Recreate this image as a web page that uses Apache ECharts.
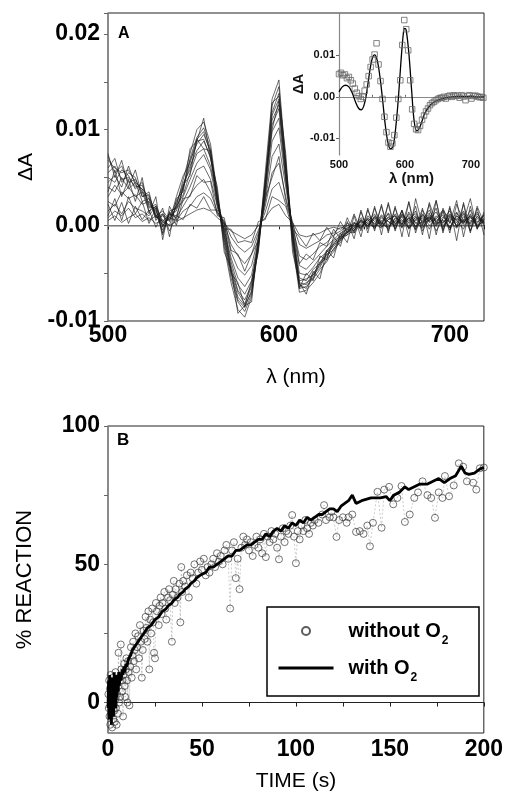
<!DOCTYPE html>
<html><head><meta charset="utf-8">
<script src="https://cdn.jsdelivr.net/npm/echarts@6/dist/echarts.min.js"></script>
<style>html,body{margin:0;padding:0;background:#fff}#c{width:506px;height:803px}</style>
</head><body><div id="c"></div>
<script>
// ---------- Panel A: transient difference spectra ----------
const wavelengths = [500,504,508,512,516,520,524,528,532,536,540,544,548,552,556,560,564,568,572,576,580,584,588,592,596,600,604,608,612,616,620,624,628,632,636,640,644,648,652,656,660,664,668,672,676,680,684,688,692,696,700,704,708,712,716,720];

const spectrum01 = [.0068,.0060,.0055,.0058,.0045,.0038,.0030,.0012,-.0005,.0012,.0020,.0048,.0075,.0100,.0108,.0085,.0032,-.0022,-.0060,-.0088,-.0096,-.0075,-.0022,.0055,.0132,.0152,.0065,-.0020,-.0070,-.0068,-.0060,-.0050,-.0035,-.0028,-.0015,-.0010,-.0005,.0004,-.0002,.0008,.0002,.0012,-.0004,.0010,.0003,.0015,-.0006,.0008,.0000,.0014,-.0003,.0010,.0002,.0016,-.0002,.0006];
const spectrum02 = [.0055,.0062,.0048,.0050,.0040,.0042,.0022,.0015,.0000,.0008,.0025,.0040,.0070,.0092,.0102,.0080,.0028,-.0018,-.0055,-.0080,-.0090,-.0072,-.0020,.0048,.0125,.0145,.0060,-.0018,-.0066,-.0064,-.0056,-.0046,-.0038,-.0024,-.0018,-.0006,-.0008,.0002,.0006,-.0004,.0010,.0000,.0012,-.0002,.0008,-.0005,.0011,.0004,.0018,-.0004,.0009,.0000,.0012,-.0006,.0010,.0001];
const spectrum03 = [.0072,.0055,.0062,.0045,.0048,.0035,.0028,.0008,.0010,.0004,.0030,.0052,.0065,.0090,.0098,.0075,.0035,-.0015,-.0050,-.0078,-.0086,-.0068,-.0025,.0042,.0118,.0138,.0068,-.0012,-.0062,-.0066,-.0052,-.0044,-.0030,-.0026,-.0012,-.0010,.0002,-.0004,.0008,.0002,-.0003,.0009,.0003,.0015,-.0004,.0006,.0002,.0013,-.0006,.0007,.0015,-.0002,.0006,.0003,.0014,-.0001];
const spectrum04 = [.0050,.0045,.0058,.0052,.0038,.0045,.0020,.0018,-.0008,.0015,.0018,.0038,.0068,.0085,.0095,.0078,.0026,-.0012,-.0048,-.0075,-.0084,-.0070,-.0018,.0045,.0115,.0132,.0058,-.0015,-.0064,-.0060,-.0055,-.0040,-.0034,-.0020,-.0016,-.0004,-.0006,.0006,-.0001,.0010,.0004,-.0002,.0007,.0001,.0012,.0003,-.0003,.0009,.0004,.0011,-.0005,.0013,.0000,.0008,.0003,.0011];
const spectrum05 = [.0060,.0070,.0045,.0055,.0050,.0030,.0032,.0010,.0004,.0000,.0022,.0044,.0058,.0088,.0090,.0070,.0030,-.0010,-.0046,-.0070,-.0082,-.0064,-.0022,.0040,.0110,.0126,.0062,-.0010,-.0060,-.0062,-.0050,-.0042,-.0028,-.0022,-.0014,-.0008,.0000,-.0002,.0004,.0012,-.0002,.0006,.0010,-.0003,.0014,.0002,.0008,-.0004,.0010,.0002,.0012,.0005,-.0004,.0012,.0000,.0008];
const spectrum06 = [.0045,.0052,.0040,.0062,.0042,.0038,.0018,.0022,.0002,.0010,.0015,.0040,.0062,.0078,.0088,.0072,.0024,-.0008,-.0042,-.0068,-.0078,-.0062,-.0016,.0038,.0105,.0122,.0055,-.0012,-.0058,-.0056,-.0052,-.0038,-.0032,-.0018,-.0014,-.0006,-.0003,.0008,.0002,-.0002,.0008,.0004,-.0001,.0011,.0005,.0010,-.0002,.0006,.0014,.0000,.0007,.0003,.0015,-.0001,.0007,.0004];
const spectrum07 = [.0040,.0035,.0050,.0038,.0045,.0025,.0028,.0008,.0012,.0005,.0020,.0032,.0055,.0075,.0080,.0062,.0028,-.0005,-.0038,-.0062,-.0072,-.0058,-.0020,.0032,.0098,.0112,.0050,-.0008,-.0055,-.0058,-.0046,-.0040,-.0026,-.0020,-.0010,-.0008,.0002,-.0003,.0010,.0004,.0001,.0013,.0002,.0006,-.0003,.0009,.0005,.0016,.0002,.0005,-.0002,.0010,.0004,.0002,.0012,.0003];
const spectrum08 = [.0030,.0042,.0032,.0040,.0030,.0035,.0015,.0020,-.0002,.0012,.0010,.0030,.0048,.0065,.0074,.0058,.0022,-.0004,-.0034,-.0055,-.0064,-.0052,-.0015,.0030,.0088,.0102,.0046,-.0006,-.0050,-.0052,-.0044,-.0034,-.0028,-.0016,-.0012,-.0002,-.0005,.0006,.0000,.0009,.0003,-.0004,.0008,.0004,.0010,-.0002,.0012,.0003,.0007,.0016,.0004,-.0003,.0009,.0005,.0002,.0010];
const spectrum09 = [.0025,.0020,.0035,.0028,.0032,.0022,.0025,.0010,.0015,.0006,.0018,.0025,.0040,.0058,.0062,.0048,.0020,.0000,-.0028,-.0045,-.0052,-.0042,-.0012,.0025,.0072,.0085,.0040,-.0004,-.0042,-.0046,-.0038,-.0030,-.0022,-.0015,-.0008,-.0004,.0003,-.0002,.0007,.0001,.0011,.0004,.0000,.0012,.0002,.0008,.0000,.0011,.0005,-.0002,.0010,.0006,.0013,.0001,.0009,.0002];
const spectrum10 = [.0015,.0022,.0012,.0025,.0018,.0015,.0010,.0020,.0004,.0012,.0008,.0020,.0032,.0042,.0048,.0035,.0014,.0002,-.0020,-.0032,-.0040,-.0030,-.0008,.0020,.0055,.0065,.0030,-.0002,-.0032,-.0036,-.0030,-.0022,-.0018,-.0010,-.0006,.0000,-.0003,.0005,.0002,.0008,-.0001,.0006,.0010,.0001,.0007,.0012,.0003,.0008,-.0001,.0009,.0003,.0014,.0002,.0010,.0004,.0006];
const spectrum11 = [.0008,.0015,.0010,.0018,.0008,.0012,.0005,.0010,.0000,.0008,.0005,.0015,.0020,.0030,.0034,.0028,.0012,.0004,-.0012,-.0022,-.0028,-.0022,-.0005,.0014,.0038,.0045,.0022,.0002,-.0020,-.0024,-.0020,-.0016,-.0010,-.0008,-.0002,-.0004,.0003,.0000,.0006,-.0002,.0005,.0008,.0001,.0009,-.0003,.0006,.0010,.0000,.0007,.0003,.0011,-.0001,.0005,.0009,-.0002,.0005];
const spectrum12 = [.0005,.0010,.0003,.0008,.0012,.0004,.0008,.0002,.0006,.0000,.0004,.0008,.0012,.0016,.0018,.0015,.0008,.0002,-.0006,-.0010,-.0014,-.0010,.0000,.0008,.0018,.0022,.0010,.0003,-.0010,-.0012,-.0010,-.0008,-.0004,-.0002,-.0004,.0002,-.0001,.0004,.0000,.0006,.0002,-.0002,.0005,.0002,.0008,-.0001,.0004,.0009,.0001,.0006,-.0002,.0007,.0003,.0010,.0000,.0004];
const spectrum13 = [.0075,.0050,.0068,.0040,.0058,.0030,.0035,.0005,.0018,-.0012,.0028,.0035,.0080,.0088,.0112,.0070,.0040,-.0028,-.0045,-.0092,-.0084,-.0080,-.0012,.0036,.0128,.0135,.0075,-.0028,-.0060,-.0072,-.0048,-.0056,-.0026,-.0034,-.0008,-.0018,.0010,-.0012,.0018,-.0006,.0022,-.0008,.0020,-.0012,.0025,-.0004,.0018,-.0014,.0026,-.0008,.0020,-.0016,.0024,-.0006,.0018,-.0010];
const spectrum14 = [.0035,.0058,.0030,.0048,.0025,.0050,.0012,.0030,-.0015,.0020,.0005,.0042,.0052,.0090,.0080,.0078,.0018,.0004,-.0050,-.0060,-.0085,-.0058,-.0028,.0046,.0100,.0130,.0048,-.0004,-.0066,-.0050,-.0058,-.0032,-.0036,-.0012,-.0022,.0004,-.0014,.0016,-.0008,.0020,-.0010,.0024,-.0004,.0016,-.0012,.0028,.0000,.0022,-.0010,.0018,.0002,.0026,-.0012,.0020,-.0004,.0014];
const spectrum15 = [.0010,.0028,.0005,.0030,.0012,.0025,.0002,.0018,-.0010,.0014,.0000,.0028,.0030,.0052,.0045,.0046,.0010,.0008,-.0026,-.0030,-.0048,-.0030,-.0016,.0028,.0050,.0072,.0026,.0004,-.0040,-.0030,-.0036,-.0018,-.0022,-.0004,-.0014,.0008,-.0008,.0014,-.0004,.0018,.0000,.0022,-.0006,.0016,-.0002,.0020,-.0010,.0024,.0002,.0016,-.0008,.0022,.0004,.0028,-.0004,.0012];
const spectrum16 = [.0022,.0005,.0024,.0002,.0020,.0006,.0016,-.0002,.0012,-.0006,.0010,.0006,.0022,.0018,.0030,.0016,.0016,-.0004,-.0004,-.0018,-.0016,-.0018,.0004,.0006,.0030,.0026,.0020,-.0004,-.0012,-.0022,-.0008,-.0016,-.0002,-.0012,.0004,-.0008,.0012,-.0006,.0016,-.0002,.0020,-.0006,.0018,.0000,.0024,-.0008,.0016,.0004,.0026,-.0006,.0018,-.0002,.0022,-.0008,.0020,.0002];
const spectra = [spectrum01,spectrum02,spectrum03,spectrum04,spectrum05,spectrum06,spectrum07,spectrum08,spectrum09,spectrum10,spectrum11,spectrum12,spectrum13,spectrum14,spectrum15,spectrum16];

// ---------- Inset: measured points and fit ----------
const insetPoints = [[500,.0055],[503,.0058],[506,.0052],[509,.0054],[512,.0045],[515,.0048],[518,.0040],[521,.0032],[524,.0020],[527,.0010],[530,.0002],[533,-.0005],[536,.0000],[539,.0015],[542,.0030],[545,.0050],[548,.0072],[551,.0090],[554,.0102],[557,.0129],[560,.0078],[563,.0038],[566,-.0005],[569,-.0048],[572,-.0085],[575,-.0110],[578,-.0120],[581,-.0112],[584,-.0092],[587,-.0050],[590,-.0005],[593,.0040],[596,.0125],[599,.0185],[602,.0163],[605,.0112],[608,.0040],[611,-.0030],[614,-.0065],[617,-.0078],[620,-.0080],[623,-.0070],[626,-.0055],[629,-.0045],[632,-.0035],[635,-.0028],[638,-.0020],[641,-.0015],[644,-.0012],[647,-.0008],[650,-.0005],[653,-.0003],[656,-.0002],[659,.0000],[662,-.0004],[665,.0001],[668,.0003],[671,.0000],[674,.0004],[677,.0002],[680,.0003],[683,-.0002],[686,.0004],[689,.0001],[692,-.0008],[695,.0002],[698,.0004],[701,-.0004],[704,.0002],[707,.0003],[710,.0001],[713,-.0001],[716,.0000],[719,-.0002]];
const insetFit = [[500,.0012],[505,.0024],[510,.0028],[515,.0024],[520,.0010],[525,-.0012],[530,-.0028],[534,-.0031],[538,-.0020],[542,.0010],[546,.0055],[550,.0090],[554,.0101],[558,.0088],[562,.0050],[566,-.0005],[570,-.0065],[574,-.0108],[578,-.0125],[582,-.0120],[586,-.0075],[590,-.0005],[594,.0085],[598,.0158],[600,.0165],[602,.0160],[606,.0105],[610,.0020],[614,-.0058],[618,-.0082],[622,-.0075],[626,-.0058],[630,-.0040],[636,-.0025],[642,-.0015],[650,-.0008],[660,-.0003],[670,.0000],[680,.0001],[690,.0001],[700,.0001],[710,.0000],[720,.0000]];

// ---------- Panel B: % reaction vs time ----------
const withoutO2 = [[0.2,3],[0.4,-2],[0.6,8],[0.8,-5],[1.0,5],[1.2,-8],[1.4,10],[1.6,0],[1.8,-4],[2.0,6],[2.2,-9],[2.4,2],[2.6,9],[2.8,-6],[3.0,4],[3.2,-3],[3.4,7],[3.6,-7],[3.8,1],[4.0,11],[4.2,-2],[4.4,5],[4.6,-8],[4.8,3],[5.0,8],[5.3,-4],[5.6,18],[5.9,0],[6.2,9],[6.5,2],[6.8,21],[7.1,12],[7.4,4],[7.7,8],[8.0,-5],[8.3,10],[8.6,14],[8.9,6],[9.2,2],[9.5,12],[9.8,16],[10.1,8],[10.4,0],[10.7,15],[11,11],[11.4,-1],[11.8,13],[12.2,20],[12.6,9],[13,17],[13.4,22],[13.8,15],[14.2,19],[14.6,25],[15,12],[15.5,20],[16,24],[16.5,16],[17,28],[17.5,22],[18,9],[18.5,19],[19,26],[19.5,23],[20,31],[20.5,27],[21,22],[21.5,33],[22,12],[22.5,30],[23,25],[23.5,34],[24,29],[24.5,18],[25,16],[25.5,36],[26,33],[27,28],[27.5,35],[28,38],[28.5,32],[29,36],[30,40],[30.5,34],[31,30],[32,38],[32.5,41],[33,37],[34,22],[34.5,39],[35,44],[35.5,36],[36,41],[37,38],[38,43],[38.5,29],[39,49],[39.5,40],[40,44],[41,42],[42,46],[43,38],[44,47],[45,45],[46,50],[47,43],[48,47],[49,51],[50,48],[51,52],[52,46],[53,49],[54,47],[55,50],[56,52],[57,49],[58,54],[59,51],[60,53],[61,50],[62,55],[63,57],[64,52],[65,34],[66,55],[67,58],[68,45],[69,52],[70,41],[71,56],[72,60],[73,57],[74,59],[75,55],[76,58],[77,53],[78,57],[79,60],[80,56],[81,59],[82,54],[83,61],[84,52.6],[85,60],[86,58],[87,62],[88,59],[89,61],[90,56],[91,51.8],[92,60],[93,63],[94,58],[95,62],[96,61],[97,64],[98,67.8],[99,60],[100,50.4],[101,62],[102,59],[103,64],[104,62],[105,66],[106,63],[107,61],[108,65],[109,64],[110,66],[112,65],[114,68],[115,71.4],[116,66],[118,67],[119,69],[120,67],[121.6,59.9],[123,66],[125,67],[127,65],[128,67],[130,68],[132,61.7],[134,62],[136,61],[138,64],[139.4,56.5],[141,65],[143.4,76.2],[145.6,63.2],[147,77],[149.6,78],[151.8,71.7],[154,74],[156.2,78.3],[158,65.3],[160.6,68],[163,74],[165,76],[167.4,80],[170,75],[172,74],[174,66.8],[176,76],[178,74],[179.3,81.9],[181.5,74.6],[184,78.5],[186.7,86.5],[189,85.3],[191,80],[194.3,79.5],[196,77],[197.9,84.7],[200,85]];
const withO2 = [[0,-2],[0.3,8],[0.6,-6],[0.9,10],[1.2,-4],[1.5,6],[1.8,-8],[2.1,9],[2.4,-3],[2.7,7],[3.0,-5],[3.3,11],[3.6,0],[3.9,8],[4.2,-2],[4.5,10],[4.8,2],[5.1,9],[5.4,4],[5.7,11],[6,6],[6.5,10],[7,8],[7.5,12],[8,10],[8.5,13],[9,11],[9.5,14],[10,13],[11,16],[12,17],[13,19],[14,19],[15,21],[16,22],[17,22],[18,24],[19,25],[20,25],[21,27],[22,27],[23,28],[24,29],[25,30],[26,30],[27,31],[28,32],[29,33],[30,33],[31,34],[32,35],[33,35],[34,36],[35,37],[36,37],[37,38],[38,39],[39,39],[40,40],[41,41],[42,41],[43,42],[44,43],[45,43],[46,44],[47,45],[48,45],[49,46],[50,46],[52,47],[54,49],[56,49],[58,50],[60,51],[62,52],[64,53],[66,53],[68,55],[70,55],[72,56],[74,57],[76,57],[78,58],[80,59],[82,59],[84,61],[86,60],[88,62],[90,63],[92,62],[94,64],[96,63],[98,65],[100,64],[102,66],[104,65],[106,67],[108,66],[110,67],[112,68],[114,68],[116,69],[118,70],[120,70],[122,69],[124,71],[126,72],[128,73],[130,75],[132,72],[135,73],[140,74],[145,74],[148,74.5],[150,73],[152,75],[155,76],[158,78],[160,77],[163,78],[166,79],[170,79],[173,80],[176,81],[179,79.5],[182,81],[185,82],[188,85.5],[190,83],[192,82.5],[195,83],[198,84.5],[200,85]];

const FONT = '"Liberation Sans", Arial, Helvetica, sans-serif';
const chart = echarts.init(document.getElementById('c'), null, {renderer: 'canvas'});

function near(v, step) { return Math.abs(v / step - Math.round(v / step)) < 1e-6; }
function fmt2(v) { if (!near(v, 0.01)) return ''; if (Math.abs(v) < 1e-9) return '0.00'; return v.toFixed(2); }

const specSeries = spectra.map((s, k) => ({
  type: 'line', xAxisIndex: 0, yAxisIndex: 0, symbol: 'none', silent: true,
  data: wavelengths.map((w, i) => [w, s[i]]),
  lineStyle: {color: '#1a1a1a', width: 0.65},
  z: 3,
  markLine: k === 0 ? {silent: true, symbol: ['none', 'none'], label: {show: false},
    lineStyle: {color: '#9a9a9a', width: 1.6, type: 'solid'}, data: [{yAxis: 0}], z: 2} : undefined
}));

const option = {
  animation: false,
  backgroundColor: '#fff',
  textStyle: {fontFamily: FONT},
  grid: [
    {left: 108, top: 13, width: 376, height: 308, show: true, borderColor: '#222', borderWidth: 1},
    {left: 339, top: 13, width: 145, height: 142, show: false},
    {left: 108, top: 426, width: 376, height: 307, show: true, borderColor: '#222', borderWidth: 1}
  ],
  xAxis: [
    {gridIndex: 0, type: 'value', min: 500, max: 720, interval: 50,
      axisLine: {lineStyle: {color: '#222', width: 1.2}},
      axisTick: {length: 4, lineStyle: {color: '#222'}},
      axisLabel: {fontSize: 23, fontWeight: 'bold', color: '#000', margin: 3, fontFamily: FONT,
        formatter: v => (v % 100 === 0 ? String(v) : '')},
      splitLine: {show: false},
      name: 'λ (nm)', nameLocation: 'middle', nameGap: 46,
      nameTextStyle: {fontSize: 21, color: '#000', fontFamily: FONT}},
    {gridIndex: 1, type: 'value', min: 500, max: 720, interval: 50,
      axisLine: {lineStyle: {color: '#888', width: 1.2}},
      axisTick: {length: 2, inside: true, lineStyle: {color: '#666'}},
      axisLabel: {fontSize: 11, fontWeight: 'bold', color: '#111', margin: 4, fontFamily: FONT,
        formatter: v => (v % 100 === 0 ? String(v) : '')},
      splitLine: {show: false},
      name: 'λ (nm)', nameLocation: 'middle', nameGap: 15,
      nameTextStyle: {fontSize: 15, fontWeight: 'bold', color: '#111', fontFamily: FONT}},
    {gridIndex: 2, type: 'value', min: 0, max: 200, interval: 25,
      axisLine: {lineStyle: {color: '#222', width: 1.2}},
      axisTick: {length: 4, lineStyle: {color: '#222'}},
      axisLabel: {fontSize: 23, fontWeight: 'bold', color: '#000', margin: 5, fontFamily: FONT,
        formatter: v => (v % 50 === 0 ? String(v) : '')},
      splitLine: {show: false},
      name: 'TIME (s)', nameLocation: 'middle', nameGap: 38,
      nameTextStyle: {fontSize: 21, color: '#000', fontFamily: FONT}}
  ],
  yAxis: [
    {gridIndex: 0, type: 'value', min: -0.01, max: 0.0222, interval: 0.005,
      axisLine: {lineStyle: {color: '#888', width: 1.5}},
      axisTick: {length: 4, lineStyle: {color: '#666'}},
      axisLabel: {fontSize: 23, fontWeight: 'bold', color: '#000', margin: 8, fontFamily: FONT, formatter: fmt2},
      splitLine: {show: false},
      name: 'ΔA', nameLocation: 'middle', nameGap: 62,
      nameTextStyle: {fontSize: 21, color: '#000', fontFamily: FONT}},
    {gridIndex: 1, type: 'value', min: -0.014, max: 0.0202,
      axisLine: {lineStyle: {color: '#888', width: 1.2}},
      axisTick: {length: 3, customValues: [-0.01, 0, 0.01], lineStyle: {color: '#666'}},
      axisLabel: {fontSize: 11, fontWeight: 'bold', color: '#111', margin: 4, fontFamily: FONT,
        customValues: [-0.01, 0, 0.01], formatter: fmt2},
      splitLine: {show: false},
      name: 'ΔA', nameLocation: 'middle', nameGap: 28,
      nameTextStyle: {fontSize: 14, fontWeight: 'bold', color: '#111', fontFamily: FONT}},
    {gridIndex: 2, type: 'value', min: -11, max: 100,
      axisLine: {lineStyle: {color: '#888', width: 1.5}},
      axisTick: {length: 4, customValues: [0, 25, 50, 75, 100], lineStyle: {color: '#666'}},
      axisLabel: {fontSize: 23, fontWeight: 'bold', color: '#000', margin: 8, fontFamily: FONT,
        customValues: [0, 50, 100], formatter: v => String(Math.round(v))},
      splitLine: {show: false},
      name: '% REACTION', nameLocation: 'middle', nameGap: 72,
      nameTextStyle: {fontSize: 22, color: '#000', fontFamily: FONT}}
  ],
  legend: {
    data: [{name: 'without O2', icon: 'circle'},
           {name: 'with O2', itemStyle: {opacity: 0}, lineStyle: {width: 3, color: '#000'}}],
    orient: 'vertical', left: 277, top: 615, padding: 0, itemGap: 5,
    itemWidth: 55, itemHeight: 8,
    formatter: n => (n === 'without O2' ? '{a|without O}{s|2}' : '{a|with O}{s|2}'),
    textStyle: {
      rich: {
        a: {fontSize: 20, fontWeight: 'bold', color: '#000', fontFamily: FONT, lineHeight: 24, padding: [0, 0, 0, 10]},
        s: {fontSize: 12, fontWeight: 'bold', color: '#000', fontFamily: FONT, lineHeight: 13, padding: [20, 0, 0, 1]}
      }
    },
    selectedMode: false
  },
  graphic: [
    {type: 'rect', z: 1, shape: {x: 267, y: 607, width: 212, height: 89}, style: {fill: '#fff', stroke: '#000', lineWidth: 1.5}},
    {type: 'text', z: 10, left: 118, top: 26, style: {text: 'A', fontSize: 16, fontWeight: 'bold', fill: '#000', fontFamily: FONT}},
    {type: 'text', z: 10, left: 117, top: 432, style: {text: 'B', fontSize: 17, fontWeight: 'bold', fill: '#000', fontFamily: FONT}}
  ],
  series: specSeries.concat([
    {type: 'line', xAxisIndex: 1, yAxisIndex: 1, symbol: 'none', smooth: 0.35, silent: true,
      data: insetFit, lineStyle: {color: '#000', width: 1.3}, z: 4},
    {type: 'scatter', xAxisIndex: 1, yAxisIndex: 1, symbol: 'rect', symbolSize: 5.5, silent: true,
      data: insetPoints, itemStyle: {color: 'rgba(255,255,255,0)', borderColor: '#666', borderWidth: 1}, z: 5},
    {type: 'line', xAxisIndex: 2, yAxisIndex: 2, symbol: 'none', silent: true, data: withoutO2,
      lineStyle: {color: '#aaa', width: 0.6, type: [2, 2]}, z: 2},
    {name: 'without O2', type: 'scatter', xAxisIndex: 2, yAxisIndex: 2, symbol: 'circle', symbolSize: 7,
      silent: true, data: withoutO2,
      itemStyle: {color: 'rgba(255,255,255,0)', borderColor: '#333', borderWidth: 0.85}, z: 3},
    {name: 'with O2', type: 'line', xAxisIndex: 2, yAxisIndex: 2, symbol: 'none', silent: true,
      data: withO2, itemStyle: {color: '#000'}, lineStyle: {color: '#000', width: 2.8}, z: 4}
  ])
};
chart.setOption(option);
</script>
</body></html>
